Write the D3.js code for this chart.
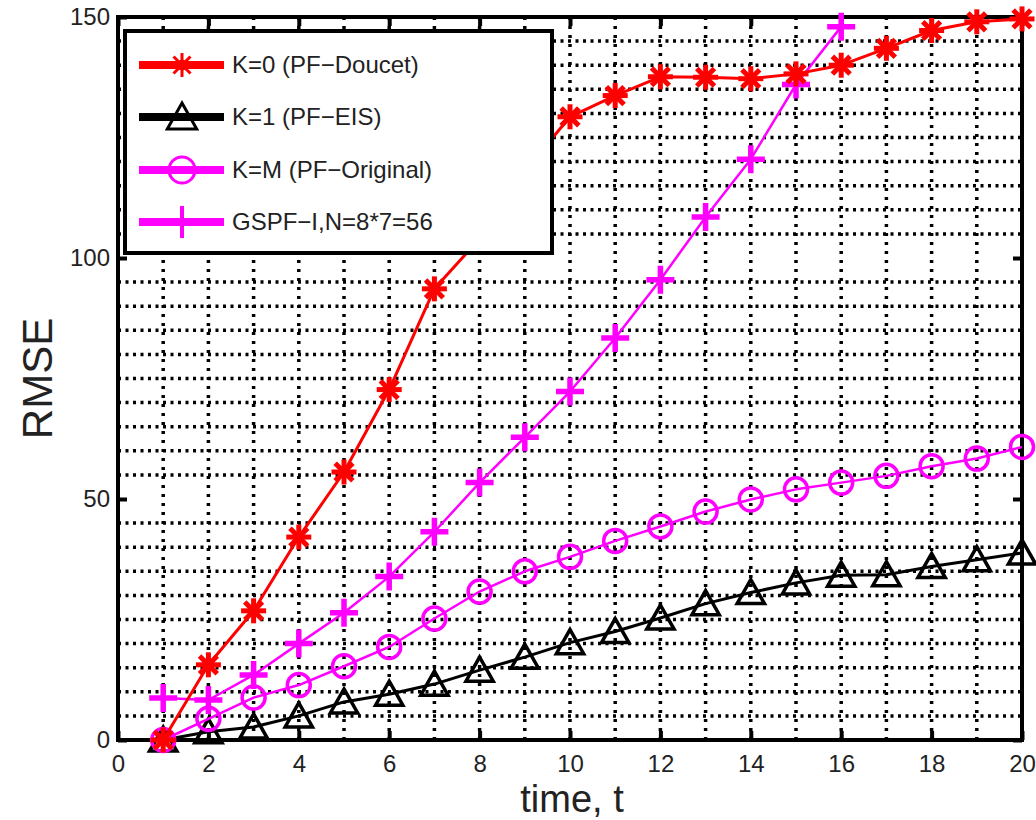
<!DOCTYPE html>
<html>
<head>
<meta charset="utf-8">
<title>RMSE vs time</title>
<script src="https://d3js.org/d3.v7.min.js"></script>
<style>
  body { margin: 0; background: #fff; }
  text { font-family: "Liberation Sans", Arial, Helvetica, sans-serif; }
</style>
</head>
<body>
<script>
// time steps
var timeSteps = [1,2,3,4,5,6,7,8,9,10,11,12,13,14,15,16,17,18,19,20];

// RMSE per series
var pfDoucet   = [0, 15.6, 26.8, 42.1, 55.6, 72.7, 93.6, 104, 118, 129.3, 133.7, 137.6, 137.5, 137.2, 138.2, 140, 143.5, 147.2, 149, 149.6];
var pfEIS      = [0, 1.7, 2.7, 5.0, 7.9, 9.5, 11.6, 14.5, 17.2, 20.2, 22.5, 25.3, 28.3, 30.6, 32.6, 34.2, 34.3, 36, 37.4, 38.8];
var pfOriginal = [0, 4.4, 8.8, 11.4, 15.3, 19.3, 25.2, 30.8, 35, 38, 41.3, 44.3, 47.4, 49.9, 52, 53.4, 54.8, 56.8, 58.4, 60.8];
var gspf       = [8.7, 8.3, 13.5, 20, 26.4, 33.9, 43.2, 53.4, 62.8, 72.3, 83.4, 95.5, 108.5, 120.5, 136, 148];

var xTicks = [0,2,4,6,8,10,12,14,16,18,20];
var yTicks = [0,50,100,150];

var legendLabels = ["K=0 (PF\u2212Doucet)", "K=1 (PF\u2212EIS)", "K=M (PF\u2212Original)", "GSPF\u2212I,N=8*7=56"];

var W = 1036, H = 820;
var margin = {left: 118, right: 14, top: 17, bottom: 80};
var pw = W - margin.left - margin.right,
    ph = H - margin.top - margin.bottom;

var svg = d3.select("body").append("svg")
  .attr("width", W)
  .attr("height", H);

var g = svg.append("g").attr("transform", "translate(" + margin.left + "," + margin.top + ")");

var x = d3.scaleLinear().domain([0, 20]).range([0, pw]);
var y = d3.scaleLinear().domain([0, 150]).range([ph, 0]);

// dotted grid: every time step, every 5 RMSE (not on 50s)
var vGrid = d3.range(1, 20);
var hGrid = d3.range(5, 150, 5).filter(function(v){ return v % 50 !== 0; });

g.append("g").selectAll("line").data(vGrid).enter().append("line")
  .attr("x1", function(d){ return x(d); }).attr("x2", function(d){ return x(d); })
  .attr("y1", 0).attr("y2", ph)
  .attr("stroke", "#000").attr("stroke-width", 3.5)
  .attr("stroke-dasharray", "3,6");

g.append("g").selectAll("line").data(hGrid).enter().append("line")
  .attr("x1", 0).attr("x2", pw)
  .attr("y1", function(d){ return y(d); }).attr("y2", function(d){ return y(d); })
  .attr("stroke", "#000").attr("stroke-width", 3.5)
  .attr("stroke-dasharray", "3,4.5");

// axes, ticks inward on all four sides
var tk = 9;
var xb = g.append("g").attr("transform", "translate(0," + ph + ")")
  .call(d3.axisBottom(x).tickValues(xTicks).tickSize(-tk).tickPadding(15).tickFormat(d3.format("d")));
var xt = g.append("g")
  .call(d3.axisTop(x).tickValues(xTicks).tickSize(-tk).tickFormat(""));
var yl = g.append("g")
  .call(d3.axisLeft(y).tickValues(yTicks).tickSize(-tk).tickPadding(8).tickFormat(d3.format("d")));
var yr = g.append("g").attr("transform", "translate(" + pw + ",0)")
  .call(d3.axisRight(y).tickValues(yTicks).tickSize(-tk).tickFormat(""));

[xb, xt, yl, yr].forEach(function(a){
  a.select(".domain").remove();
  a.selectAll(".tick line").attr("stroke", "#000").attr("stroke-width", 4);
  a.selectAll(".tick text").attr("font-size", 24).attr("fill", "#222");
});

g.append("rect")
  .attr("x", 0).attr("y", 0).attr("width", pw).attr("height", ph)
  .attr("fill", "none").attr("stroke", "#000").attr("stroke-width", 4);

// axis labels
svg.append("text")
  .attr("x", margin.left + x(10) + 2).attr("y", 812)
  .attr("text-anchor", "middle").attr("font-size", 38).attr("fill", "#222")
  .text("time, t");
svg.append("text")
  .attr("transform", "translate(52," + (margin.top + y(75)) + ") rotate(-90)")
  .attr("text-anchor", "middle").attr("font-size", 42).attr("fill", "#222")
  .text("RMSE");

// marker drawers
function asterisk(sel, r, sw, color) {
  [0, 45, 90, 135].forEach(function(a){
    sel.append("line")
      .attr("x1", -r).attr("x2", r).attr("y1", 0).attr("y2", 0)
      .attr("transform", "rotate(" + a + ")")
      .attr("stroke", color).attr("stroke-width", sw);
  });
  sel.append("circle").attr("r", r * 0.45).attr("fill", color);
}
function plus(sel, r, sw, color) {
  sel.append("path").attr("d", "M" + (-r) + ",0H" + r + "M0," + (-r) + "V" + r)
    .attr("stroke", color).attr("stroke-width", sw).attr("fill", "none");
}
function circle(sel, r, sw, color) {
  sel.append("circle").attr("r", r).attr("fill", "none")
    .attr("stroke", color).attr("stroke-width", sw);
}
function triangle(sel, r, sw, color) {
  sel.append("path").attr("d", "M0," + (-r) + "L" + (r * 1.05) + "," + (r * 0.85) + "L" + (-r * 1.05) + "," + (r * 0.85) + "Z")
    .attr("fill", "none").attr("stroke", color).attr("stroke-width", sw)
    .attr("stroke-linejoin", "miter");
}

var series = [
  {values: pfEIS,      color: "#000",    lw: 3,   marker: triangle, mr: 13, mw: 3.5},
  {values: pfOriginal, color: "#ff00ff", lw: 2.5, marker: circle,   mr: 11.5, mw: 3.5},
  {values: gspf,       color: "#ff00ff", lw: 2.5, marker: plus,     mr: 14, mw: 5.5},
  {values: pfDoucet,   color: "#ff0000", lw: 3,   marker: asterisk, mr: 12.5, mw: 5}
];

var line = d3.line()
  .x(function(d){ return x(d[0]); })
  .y(function(d){ return y(d[1]); });

series.forEach(function(s){
  var pts = s.values.map(function(v, i){ return [timeSteps[i], v]; });
  g.append("path").datum(pts)
    .attr("d", line)
    .attr("fill", "none").attr("stroke", s.color).attr("stroke-width", s.lw)
    .attr("stroke-linejoin", "round");
  g.append("g").selectAll("g").data(pts).enter().append("g")
    .attr("transform", function(d){ return "translate(" + x(d[0]) + "," + y(d[1]) + ")"; })
    .each(function(){ s.marker(d3.select(this), s.mr, s.mw, s.color); });
});

// legend
var leg = svg.append("g").attr("transform", "translate(125,31)");
leg.append("rect").attr("width", 427).attr("height", 222)
  .attr("fill", "#fff").attr("stroke", "#000").attr("stroke-width", 4);

var legItems = [
  {color: "#ff0000", marker: asterisk, mr: 12, mw: 3},
  {color: "#000",    marker: triangle, mr: 14, mw: 3},
  {color: "#ff00ff", marker: circle,   mr: 13, mw: 3},
  {color: "#ff00ff", marker: plus,     mr: 16, mw: 4}
];
var legY = [34, 86, 139, 191];

legItems.forEach(function(it, i){
  var row = leg.append("g").attr("transform", "translate(0," + legY[i] + ")");
  row.append("line").attr("x1", 14).attr("x2", 99).attr("y1", 0).attr("y2", 0)
    .attr("stroke", it.color).attr("stroke-width", 8);
  var m = row.append("g").attr("transform", "translate(57,0)");
  it.marker(m, it.mr, it.mw, it.color);
  row.append("text").attr("x", 107).attr("y", 0).attr("dy", "0.35em")
    .attr("font-size", 24).attr("fill", "#222")
    .text(legendLabels[i]);
});
</script>
</body>
</html>
